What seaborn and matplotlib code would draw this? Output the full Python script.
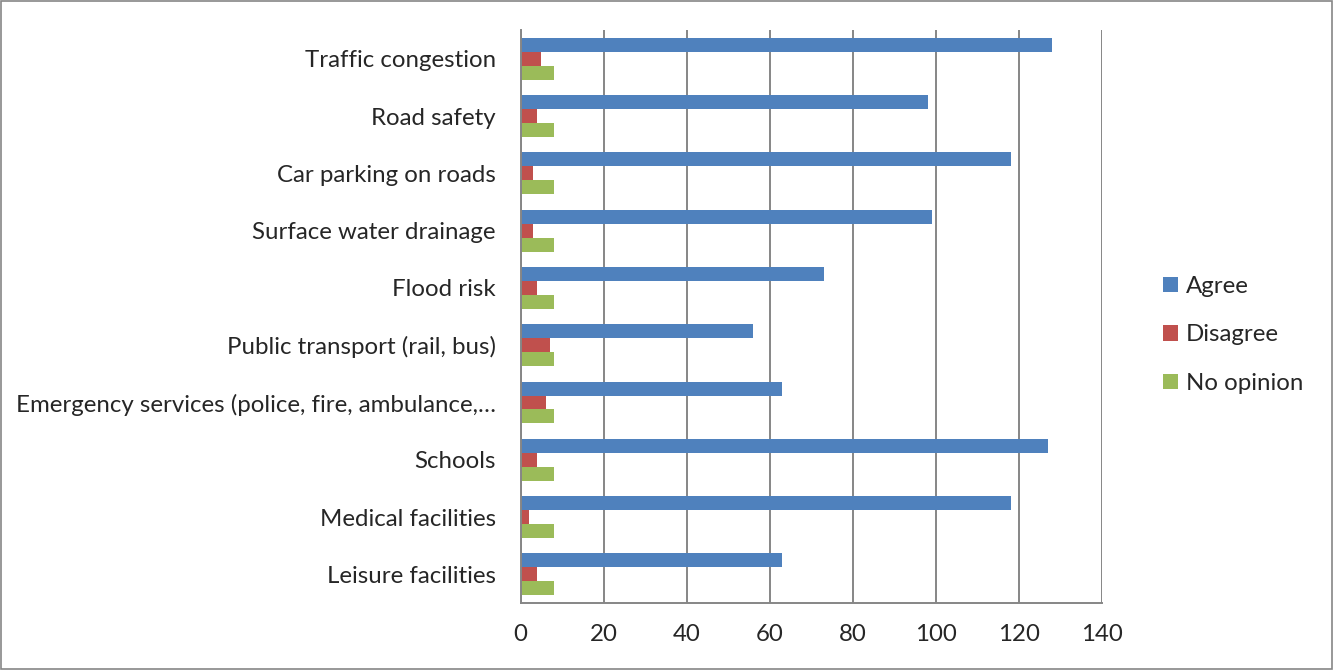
import numpy as np
import pandas as pd
import matplotlib
matplotlib.use("Agg")
import matplotlib.pyplot as plt
import seaborn as sns
from matplotlib.patches import Rectangle

# data
categories = ["Traffic congestion", "Road safety", "Car parking on roads",
              "Surface water drainage", "Flood risk", "Public transport (rail, bus)",
              "Emergency services (police, fire, ambulance,\u2026", "Schools",
              "Medical facilities", "Leisure facilities"]
agree = [128, 98, 118, 99, 73, 56, 63, 127, 118, 63]
disagree = [5, 4, 3, 3, 4, 7, 6, 4, 2, 4]
no_opinion = [8, 8, 8, 8, 8, 8, 8, 8, 8, 8]
series = ["Agree", "Disagree", "No opinion"]
colors = ["#4F81BD", "#C0504D", "#9BBB59"]
xticks = [0, 20, 40, 60, 80, 100, 120, 140]

df = pd.DataFrame({
    "issue": categories * 3,
    "count": agree + disagree + no_opinion,
    "response": [s for s in series for _ in categories],
})

sns.set_style("white")
plt.rcParams["font.family"] = ["Lato", "DejaVu Sans"]
FS = 17.3

fig = plt.figure(figsize=(13.35, 6.70), dpi=100)
ax = fig.add_axes([0.390, 0.100, 0.4355, 0.855])

sns.barplot(data=df, x="count", y="issue", hue="response", hue_order=series,
            palette=colors, orient="h", width=0.73, saturation=1, ax=ax,
            edgecolor="none", legend=True)

ax.set_xlim(0, 140)
ax.set_ylim(9.5, -0.5)
ax.set_xticks(xticks)
ax.set_xticklabels([str(t) for t in xticks], fontsize=FS)
ax.xaxis.grid(True, color="#868686", linewidth=1.4)
ax.set_axisbelow(True)
ax.set_xlabel("")
ax.set_ylabel("")

# category labels, tick marks on boundaries
ax.set_yticks(range(len(categories)))
ax.set_yticklabels(categories, fontsize=FS)
ax.tick_params(axis="y", length=0, pad=18)
ax.set_yticks(np.arange(-0.5, len(categories), 1.0), minor=True)
ax.tick_params(axis="y", which="minor", length=6, width=1.4, color="#868686")
ax.tick_params(axis="x", length=6, width=1.4, color="#868686", pad=9)

for side in ["top", "right"]:
    ax.spines[side].set_visible(False)
for side in ["left", "bottom"]:
    ax.spines[side].set_color("#868686")
    ax.spines[side].set_linewidth(1.4)

handles, labels = ax.get_legend_handles_labels()
ax.legend(handles, labels, loc="center left", bbox_to_anchor=(1.105, 0.468),
          frameon=False, fontsize=FS, handlelength=0.6, handleheight=0.6,
          handletextpad=0.35, labelspacing=1.15, borderpad=0, borderaxespad=0)

fig.patches.append(Rectangle((0.001, 0.002), 0.997, 0.996, transform=fig.transFigure,
                             fill=False, edgecolor="#868686", linewidth=1.2))

fig.savefig("out.png", dpi=100)
